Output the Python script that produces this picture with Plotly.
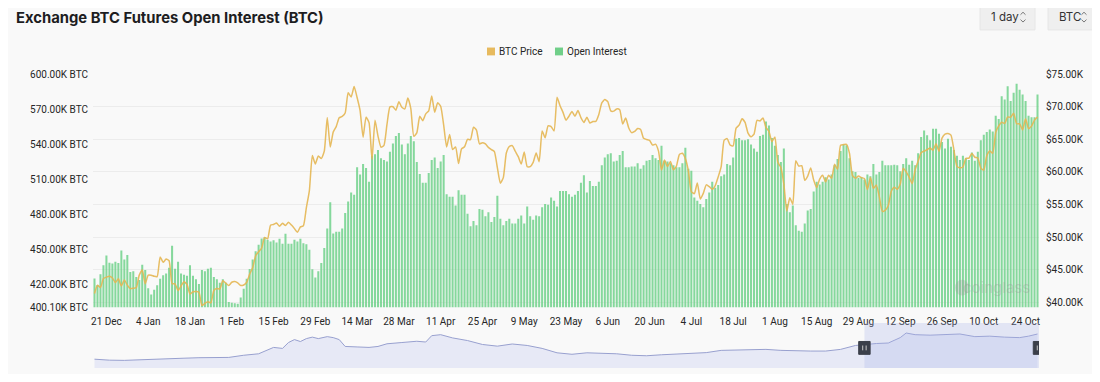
import plotly.graph_objects as go
import pandas as pd

# ---------------- data ----------------
start_date = "2023-12-17"

open_interest_k = [
    424.7, 419.2, 428.4, 436.0, 444.4, 438.2, 437.5, 439.0, 438.0, 448.8,
    441.0, 444.8, 430.3, 431.0, 426.0, 423.5, 436.5, 432.0, 416.3, 411.0,
    415.0, 419.0, 424.5, 427.5, 429.0, 434.0, 452.8, 433.0, 439.0, 429.0,
    428.0, 427.0, 436.0, 427.0, 424.0, 420.0, 432.0, 431.0, 433.0, 434.0,
    426.0, 424.0, 421.0, 424.0, 421.0, 404.5, 404.0, 403.5, 403.0, 408.5,
    416.0, 424.5, 432.8, 441.0, 448.0, 453.6, 459.0, 460.0, 458.0, 456.5,
    457.5, 455.5, 458.7, 454.5, 463.0, 454.5, 454.5, 458.0, 456.5, 458.7,
    455.0, 454.0, 449.4, 432.6, 425.6, 431.0, 438.0, 450.8, 467.6,
    490.0, 463.4, 464.8, 464.8, 467.6, 480.8, 490.8, 498.4, 496.5, 520.0,
    513.8, 522.8, 519.4, 507.6, 530.0, 531.2, 534.8, 527.8, 526.4, 525.0,
    533.4, 540.4, 546.9, 549.4, 539.6, 531.2, 540.4, 546.9, 542.4, 524.5,
    514.4, 506.8, 506.8, 515.2, 526.4, 528.4, 519.4, 525.0, 530.6, 497.0,
    494.8, 494.8, 487.2, 500.3, 496.5, 496.5, 480.2, 469.6, 474.0, 470.4,
    484.4, 483.6, 478.0, 481.6, 473.2, 477.4, 495.6, 476.0, 470.4, 474.0,
    476.0, 471.8, 471.8, 476.0, 478.8, 471.8, 486.4, 478.0, 475.1, 478.8,
    478.0, 485.8, 488.6, 488.0, 494.2, 491.4, 486.4, 499.8, 499.8, 499.8,
    497.0,
    494.8, 496.5, 499.8, 506.8, 513.2, 498.4, 508.2, 504.0, 504.0, 507.6,
    521.7, 528.4, 531.2, 532.0, 525.0, 525.6, 530.6, 534.0, 520.0, 520.0,
    520.8, 520.8, 523.6, 518.8, 521.7, 525.6, 526.4, 530.6, 527.8, 526.4,
    538.5, 525.6, 525.0, 523.6, 521.7, 520.0, 520.0, 523.6, 536.8, 518.8,
    517.1, 494.2, 491.4, 488.6, 485.8, 492.8, 498.4, 507.6, 502.6, 504.9,
    512.4, 513.8, 522.8, 521.7, 528.4, 544.6, 545.2, 543.2, 543.2, 544.0,
    539.6, 536.2, 533.4, 546.9, 548.0, 559.2, 555.8, 545.2, 538.5, 530.6,
    524.5, 536.2, 488.6, 481.6, 487.2, 470.4, 465.6, 464.8, 471.8, 483.0,
    484.4, 499.2, 507.6, 505.4, 507.6, 511.6, 509.6, 513.8, 521.7, 527.2,
    534.0, 539.6, 539.0, 527.8, 516.6, 516.0, 511.0, 511.6, 509.6, 513.8,
    512.4, 522.8, 513.8, 516.0, 525.6, 521.7, 521.7, 521.7, 522.2, 521.7,
    516.6, 522.8, 527.8, 522.2, 525.6, 521.7, 532.0, 546.0, 551.6, 547.4,
    543.2, 553.0, 553.0, 548.8, 541.8, 536.2, 544.6, 537.6, 534.8, 530.0,
    526.4, 530.0, 527.8, 526.4, 532.8, 525.6, 533.4, 543.2, 548.0, 550.2,
    552.4, 550.8, 564.2, 561.4, 581.0, 578.2, 589.4, 576.8, 583.9, 591.7,
    586.6, 582.4, 576.8, 564.2, 562.9, 562.9, 582.4,
]

btc_price_k = [
    # Dec 2023 (17-31)
    41.36, 42.62, 42.27, 43.65, 43.87, 44.00, 43.74, 43.02, 43.61, 42.52, 43.44, 42.63, 42.10, 42.16, 42.27,
    # Jan
    44.17, 44.96, 42.85, 44.18, 44.16, 43.99, 43.94, 46.97, 46.14, 46.63, 46.37, 42.85, 42.84, 41.80, 42.51, 43.15,
    42.74, 41.26, 41.62, 41.67, 41.55, 39.51, 39.85, 40.08, 39.93, 41.82, 42.12, 42.04, 43.30, 42.94, 42.58,
    # Feb
    43.08, 43.19, 42.99, 42.58, 42.66, 43.08, 44.32, 45.30, 47.15, 47.77, 48.29, 49.96, 49.74, 51.83, 51.94,
    52.16, 51.66, 52.12, 51.78, 52.28, 51.84, 51.30, 50.73, 51.57, 51.73, 54.52, 57.09, 62.50, 61.20,
    # Mar
    62.44, 62.03, 63.17, 68.33, 63.80, 66.11, 66.93, 68.30, 68.50, 69.02, 72.12, 71.48, 73.08, 71.40, 69.40, 65.32,
    68.39, 67.55, 61.91, 67.91, 65.49, 63.78, 64.06, 67.23, 69.96, 69.99, 69.46, 70.74, 69.89, 69.65, 71.33,
    # Apr
    69.70, 65.45, 65.98, 68.51, 67.84, 68.90, 69.36, 71.63, 69.14, 70.59, 70.06, 67.20, 63.82, 65.74, 63.43,
    63.81, 61.28, 63.51, 63.84, 64.99, 64.93, 66.84, 66.41, 64.28, 64.48, 64.28, 63.76, 63.42, 63.11, 60.64,
    # May
    58.25, 59.12, 62.89, 63.89, 64.03, 63.16, 62.33, 61.19, 63.05, 60.79, 60.79, 61.45, 62.90, 61.55, 66.27, 65.23,
    67.05, 66.94, 66.28, 71.45, 70.14, 69.12, 67.93, 68.53, 69.27, 68.52, 69.39, 68.30, 67.58, 68.37, 67.49,
    # Jun
    67.71, 67.75, 68.80, 70.57, 71.08, 70.76, 69.34, 69.31, 69.65, 69.51, 67.33, 68.24, 66.76, 66.01, 66.19,
    66.64, 66.49, 65.14, 64.96, 64.83, 64.10, 64.25, 63.18, 60.28, 61.80, 60.81, 61.60, 60.32, 60.89, 62.68,
    # Jul
    62.85, 62.03, 60.17, 56.98, 56.66, 58.30, 55.85, 56.71, 58.01, 57.74, 57.34, 57.90, 59.23, 60.79, 64.87, 65.10,
    64.12, 63.97, 66.71, 67.16, 68.15, 67.59, 65.93, 65.37, 65.78, 67.91, 67.81, 68.26, 66.82, 66.20, 64.62,
    # Aug
    65.36, 61.42, 60.68, 58.12, 53.99, 56.03, 55.03, 61.71, 60.88, 60.95, 58.72, 59.35, 60.61, 58.74, 57.56, 58.89,
    59.48, 58.48, 59.49, 59.01, 61.18, 60.38, 64.09, 64.18, 64.22, 62.83, 59.42, 59.03, 59.36, 59.12, 58.97,
    # Sep
    57.30, 59.13, 57.49, 57.97, 56.16, 53.95, 54.14, 54.84, 57.02, 57.65, 57.34, 58.13, 60.57, 60.01, 59.18,
    58.19, 60.31, 61.65, 62.94, 63.19, 63.39, 63.65, 63.33, 64.30, 63.14, 65.18, 65.79, 65.89, 65.64, 63.33,
    # Oct (1-28)
    60.84, 60.63, 60.75, 62.07, 62.09, 62.82, 62.24, 62.13, 60.58, 60.28, 62.45, 63.19, 62.85, 66.05,
    67.04, 67.61, 67.40, 68.42, 68.36, 69.00, 67.37, 67.36, 66.43, 68.16, 66.64, 67.01, 67.93, 68.40,
]

x_tick_dates = ["2023-12-21", "2024-01-04", "2024-01-18", "2024-02-01", "2024-02-15", "2024-02-29",
                "2024-03-14", "2024-03-28", "2024-04-11", "2024-04-25", "2024-05-09", "2024-05-23",
                "2024-06-06", "2024-06-20", "2024-07-04", "2024-07-18", "2024-08-01", "2024-08-15",
                "2024-08-29", "2024-09-12", "2024-09-26", "2024-10-10", "2024-10-24"]
x_tick_labels = ["21 Dec", "4 Jan", "18 Jan", "1 Feb", "15 Feb", "29 Feb", "14 Mar", "28 Mar", "11 Apr",
                 "25 Apr", "9 May", "23 May", "6 Jun", "20 Jun", "4 Jul", "18 Jul", "1 Aug", "15 Aug",
                 "29 Aug", "12 Sep", "26 Sep", "10 Oct", "24 Oct"]

oi_tick_vals = [400.1, 420, 450, 480, 510, 540, 570, 600]
oi_tick_text = ["400.10K BTC", "420.00K BTC", "450.00K BTC", "480.00K BTC", "510.00K BTC",
                "540.00K BTC", "570.00K BTC", "600.00K BTC"]
price_tick_vals = [40, 45, 50, 55, 60, 65, 70, 75]
price_tick_text = ["$40.00K", "$45.00K", "$50.00K", "$55.00K", "$60.00K", "$65.00K", "$70.00K", "$75.00K"]

series_names = ["BTC Price", "Open Interest"]

# navigator overview series
nav_dates = ["2023-12-17", "2023-12-22", "2023-12-27", "2024-01-01", "2024-01-06", "2024-01-11", "2024-01-16",
             "2024-01-21", "2024-01-26", "2024-01-31", "2024-02-05", "2024-02-10", "2024-02-15", "2024-02-18",
             "2024-02-20", "2024-02-22", "2024-02-24", "2024-02-26", "2024-02-28", "2024-03-01", "2024-03-04",
             "2024-03-06", "2024-03-08", "2024-03-10", "2024-03-14", "2024-03-18", "2024-03-21", "2024-03-24",
             "2024-03-29", "2024-04-03", "2024-04-06", "2024-04-08", "2024-04-11", "2024-04-15", "2024-04-20",
             "2024-04-25", "2024-04-30", "2024-05-05", "2024-05-10", "2024-05-15", "2024-05-20", "2024-05-25",
             "2024-05-30", "2024-06-04", "2024-06-09", "2024-06-14", "2024-06-19", "2024-06-24", "2024-06-29",
             "2024-07-04", "2024-07-09", "2024-07-14", "2024-07-19", "2024-07-24", "2024-07-29", "2024-08-03",
             "2024-08-08", "2024-08-13", "2024-08-18", "2024-08-23", "2024-08-28", "2024-08-31", "2024-09-04",
             "2024-09-08", "2024-09-12", "2024-09-14", "2024-09-17", "2024-09-22", "2024-09-27", "2024-10-02",
             "2024-10-07", "2024-10-12", "2024-10-17", "2024-10-22", "2024-10-25", "2024-10-28"]
nav_values = [11, 10, 9.8, 10.5, 11, 11.5, 12, 12.5, 12.7, 12.8, 15, 16.5, 23, 22, 28, 31, 29, 32, 33.5, 32,
              34, 33, 31, 24, 23.5, 23, 24, 26.7, 28, 29.3, 28.5, 35, 36, 32.7, 30, 26, 24.3, 26.5, 25, 22,
              17.5, 16, 17.5, 17, 16.5, 15, 14.5, 15.5, 16, 17, 17.7, 20, 20.5, 21, 21, 20, 19.3, 19.3, 19.3,
              21, 25, 26, 27, 27.5, 33, 37.7, 36, 35.5, 36, 36.7, 34, 34.5, 33.5, 33, 34.5, 36.7]
nav_selection = ["2024-08-31", "2024-10-28 12:00"]

# ---------------- figure ----------------
dates = pd.date_range(start_date, periods=len(open_interest_k), freq="D")
x_range = [dates[0] - pd.Timedelta(hours=12), dates[-1] + pd.Timedelta(hours=12)]

BG = "#f9f9f9"
GREEN = "rgba(116,211,142,0.88)"
GOLD = "rgba(228,182,82,0.9)"
TXT = "#262626"

# The page body adds an 8px offset on every side; the figure is sized so that
# it fits in the window without scrollbars.
OFF = 8
W, H = 1100 - 2 * OFF, 382 - 2 * OFF
PLOT_L, PLOT_R, PLOT_T, PLOT_B = 93, 1039, 74, 374  # window pixel coordinates


def px_x(px):
    return (px - PLOT_L) / (PLOT_R - PLOT_L)


def px_y(py):
    return (PLOT_B - py) / (PLOT_B - PLOT_T)


fig = go.Figure()

fig.add_trace(go.Bar(
    x=dates, y=open_interest_k, name=series_names[1], marker=dict(color=GREEN, line=dict(width=0)),
    xaxis="x", yaxis="y", showlegend=False,
))
fig.add_trace(go.Scatter(
    x=dates, y=btc_price_k, name=series_names[0], mode="lines",
    line=dict(color=GOLD, width=1.5, shape="spline", smoothing=0.5),
    xaxis="x", yaxis="y3", showlegend=False,
))

# navigator
fig.add_trace(go.Scatter(
    x=pd.to_datetime(nav_dates), y=nav_values, mode="lines", fill="tozeroy",
    line=dict(color="#98a0cf", width=1), fillcolor="rgba(218,222,243,0.6)",
    xaxis="x2", yaxis="y2", showlegend=False, hoverinfo="skip",
))

main_bottom = px_y(312)
nav_top = px_y(333)

tick_font = dict(family="Roboto, Inter, sans-serif", size=10, color=TXT)

fig.update_layout(
    width=W, height=H,
    paper_bgcolor=BG, plot_bgcolor=BG,
    margin=dict(l=PLOT_L - OFF, r=W - (PLOT_R - OFF), t=PLOT_T - OFF, b=H - (PLOT_B - OFF)),
    font=dict(family="Roboto, Inter, sans-serif", size=10, color=TXT),
    bargap=0.32,
    showlegend=False,
    xaxis=dict(domain=[0, 1], range=x_range, type="date", tickvals=pd.to_datetime(x_tick_dates),
               ticktext=x_tick_labels, showgrid=False, zeroline=False, showline=False, ticks="",
               tickfont=tick_font, anchor="y", ticklabelstandoff=7),
    yaxis=dict(domain=[main_bottom, 1], range=[400.1, 600], tickvals=oi_tick_vals, ticktext=oi_tick_text,
               showgrid=False, zeroline=False, ticks="", tickfont=tick_font, ticklabelstandoff=4),
    yaxis3=dict(overlaying="y", side="right", range=[39.25, 75], tickvals=price_tick_vals,
                ticktext=price_tick_text, showgrid=True, gridcolor="#ececec", gridwidth=1,
                zeroline=False, ticks="", tickfont=tick_font, ticklabelstandoff=6),
    xaxis2=dict(domain=[0, 1], range=x_range, type="date", anchor="y2", showticklabels=False,
                showgrid=False, zeroline=False, showline=False),
    yaxis2=dict(domain=[0, nav_top], range=[2, 43], showticklabels=False, showgrid=False,
                zeroline=False),
)

# title
fig.add_annotation(xref="paper", yref="paper", x=px_x(14), y=px_y(17), xanchor="left",
                   yanchor="middle", showarrow=False,
                   text="<b>Exchange BTC Futures Open Interest (BTC)</b>",
                   font=dict(family="Inter, sans-serif", size=14.8, color="#1d1d1f"))

# legend (drawn manually to match the compact layout)
legend_items = [(series_names[0], "#e7ba5e", 487), (series_names[1], "#70cf89", 555)]
for name, color, lx in legend_items:
    fig.add_shape(type="rect", xref="paper", yref="paper", x0=px_x(lx), x1=px_x(lx + 8),
                  y0=px_y(55), y1=px_y(47), fillcolor=color, line=dict(width=0))
    fig.add_annotation(xref="paper", yref="paper", x=px_x(lx + 10), y=px_y(51), xanchor="left",
                       yanchor="middle", showarrow=False, text=name,
                       font=dict(family="Roboto, sans-serif", size=10, color=TXT))

# selector buttons (top right)
for (x0, x1, label) in [(980, 1035, "1 day"), (1048, 1096, "BTC")]:
    fig.add_shape(type="rect", xref="paper", yref="paper", x0=px_x(x0), x1=px_x(x1),
                  y0=px_y(29), y1=px_y(3), fillcolor="#efefef", line=dict(color="#e6e6e6", width=1),
                  layer="above")
    fig.add_annotation(xref="paper", yref="paper", x=px_x(x0 + 9), y=px_y(16), xanchor="left",
                       yanchor="middle", showarrow=False, text=label,
                       font=dict(family="Inter, sans-serif", size=11.5, color="#333333"))
    cx = x1 - 12
    for ya, yb in ((13.5, 11), (18.5, 21)):
        fig.add_shape(type="path", xref="paper", yref="paper",
                      path=f"M {px_x(cx - 2.5)} {px_y(ya)} L {px_x(cx)} {px_y(yb)} L {px_x(cx + 2.5)} {px_y(ya)}",
                      line=dict(color="#777777", width=1))

# watermark
fig.add_annotation(xref="paper", yref="paper", x=px_x(1032), y=px_y(292), xanchor="right", yanchor="middle",
                   showarrow=False, text="coinglass",
                   font=dict(family="Inter, sans-serif", size=15, color="rgba(150,150,150,0.33)"))
fig.add_shape(type="circle", xref="paper", yref="paper", x0=px_x(955), x1=px_x(969), y0=px_y(300),
              y1=px_y(284), fillcolor="rgba(150,150,150,0.28)", line=dict(width=0), layer="above")

# navigator selection and handles
sel0 = pd.Timestamp(nav_selection[0])
sel1 = pd.Timestamp(nav_selection[1])
fig.add_shape(type="rect", xref="x2", yref="y2 domain", x0=sel0, x1=sel1, y0=0, y1=1.12,
              fillcolor="rgba(170,180,235,0.28)", line=dict(width=0), layer="above")
half = pd.Timedelta(hours=46)
for t in (sel0, sel1):
    fig.add_shape(type="rect", xref="x2", yref="y2 domain", x0=t - half, x1=t + half, y0=0.34, y1=0.66,
                  fillcolor="#3b3f4a", line=dict(color="#3b3f4a", width=1), layer="above")
    for dx in (-0.3, 0.3):
        fig.add_shape(type="line", xref="x2", yref="y2 domain", x0=t + half * dx, x1=t + half * dx,
                      y0=0.44, y1=0.56, line=dict(color="#c8c8c8", width=1), layer="above")

fig.write_html("out.html")
